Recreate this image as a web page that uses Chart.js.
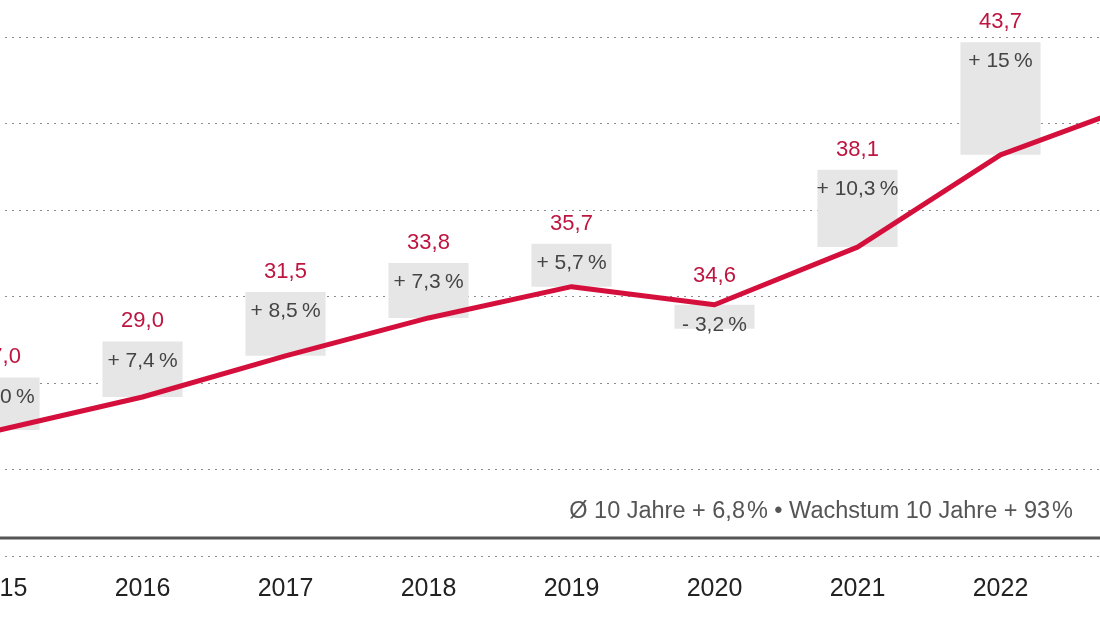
<!DOCTYPE html>
<html>
<head>
<meta charset="utf-8">
<script src="https://cdn.jsdelivr.net/npm/chart.js@4/dist/chart.umd.min.js"></script>
<style>
  html, body { margin: 0; padding: 0; background: #fff; overflow: hidden; }
  body { width: 1100px; height: 618px; position: relative; }
  #wrap { position: absolute; left: -72px; top: 0; width: 1287px; height: 618px; }
  #note { position: absolute; right: 27px; top: 497px; font: 23.5px 'Liberation Sans', Arial, sans-serif; color: #555; white-space: nowrap; }
</style>
</head>
<body>
<div id="wrap"><canvas id="umsatz"></canvas></div>
<div id="note">Ø 10 Jahre + 6,8&#8202;% • Wachstum 10 Jahre + 93&#8202;%</div>
<script>
// werte (2015 und 2023 liegen am rand)
const years = ['2015', '2016', '2017', '2018', '2019', '2020', '2021', '2022', '2023'];
const values = [27.0, 29.0, 31.5, 33.8, 35.7, 34.6, 38.1, 43.7, 46.9];
const growth = [7.0, 7.4, 8.5, 7.3, 5.7, -3.2, 10.3, 15, 7.3];
const growthText = ['+ 7,0 %', '+ 7,4 %', '+ 8,5 %', '+ 7,3 %', '+ 5,7 %', '- 3,2 %', '+ 10,3 %', '+ 15 %', '+ 7,3 %'];
const gridValues = [19.35, 24.6, 29.85, 35.1, 40.35, 45.6, 50.85];
const baseline = 20.45;
const boxPerPct = 0.456;

const red = '#d40f3c';
const labelRed = '#bd1540';
const txtFont = "'Liberation Sans', Arial, sans-serif";

// graue kaesten: von wert bis wert + wachstum (skaliert)
const boxes = values.map((v, i) => [v, v + growth[i] * boxPerPct]);

const labelPlugin = {
  id: 'labels',
  beforeDatasetsDraw(chart) {
    const ctx = chart.ctx;
    const y = chart.scales.y.getPixelForValue(baseline);
    ctx.save();
    ctx.strokeStyle = '#555';
    ctx.lineWidth = 3;
    ctx.beginPath();
    ctx.moveTo(chart.chartArea.left, y);
    ctx.lineTo(chart.chartArea.right, y);
    ctx.stroke();
    ctx.restore();
  },
  afterDatasetsDraw(chart) {
    const ctx = chart.ctx;
    const xs = chart.scales.x, ys = chart.scales.y;
    ctx.save();
    ctx.textAlign = 'center';
    values.forEach((v, i) => {
      const x = xs.getPixelForValue(i);
      const py = ys.getPixelForValue(v);
      const top = ys.getPixelForValue(boxes[i][1]);
      const txt = v.toFixed(1).replace('.', ',');
      const g = growthText[i].replace(' %', '\u2009%');
      ctx.font = '22px ' + txtFont;
      ctx.fillStyle = labelRed;
      ctx.textBaseline = 'bottom';
      ctx.fillText(txt, x, growth[i] >= 0 ? top - 9 : py - 18);
      ctx.font = '21px ' + txtFont;
      ctx.fillStyle = '#454545';
      ctx.textBaseline = 'top';
      ctx.fillText(g, x, growth[i] >= 0 ? top + 9 : py + 10);
    });
    ctx.restore();
  }
};

const chart = new Chart(document.getElementById('umsatz').getContext('2d'), {
  type: 'bar',
  data: {
    labels: years,
    datasets: [{
      type: 'line',
      data: values,
      borderColor: red,
      borderWidth: 5,
      pointRadius: 0,
      tension: 0,
      borderJoinStyle: 'round',
      borderCapStyle: 'round',
      order: 0
    }, {
      type: 'bar',
      data: boxes,
      backgroundColor: '#e6e6e6',
      barPercentage: 0.56,
      categoryPercentage: 1,
      order: 1
    }]
  },
  options: {
    responsive: true,
    maintainAspectRatio: false,
    animation: false,
    layout: { padding: { left: 0, right: 0, top: 0, bottom: 4 } },
    plugins: { legend: { display: false }, tooltip: { enabled: false } },
    scales: {
      x: {
        offset: true,
        grid: { display: false },
        border: { display: false },
        ticks: { color: '#222', padding: 10, font: { family: txtFont, size: 25 } }
      },
      y: {
        min: 19.35,
        max: 53.1,
        border: { display: false, dash: [2, 5] },
        grid: { color: '#8c8c8c', lineWidth: 1, drawTicks: false },
        ticks: { display: false },
        afterBuildTicks: (axis) => { axis.ticks = gridValues.map(v => ({ value: v })); }
      }
    }
  },
  plugins: [labelPlugin]
});
</script>
</body>
</html>
